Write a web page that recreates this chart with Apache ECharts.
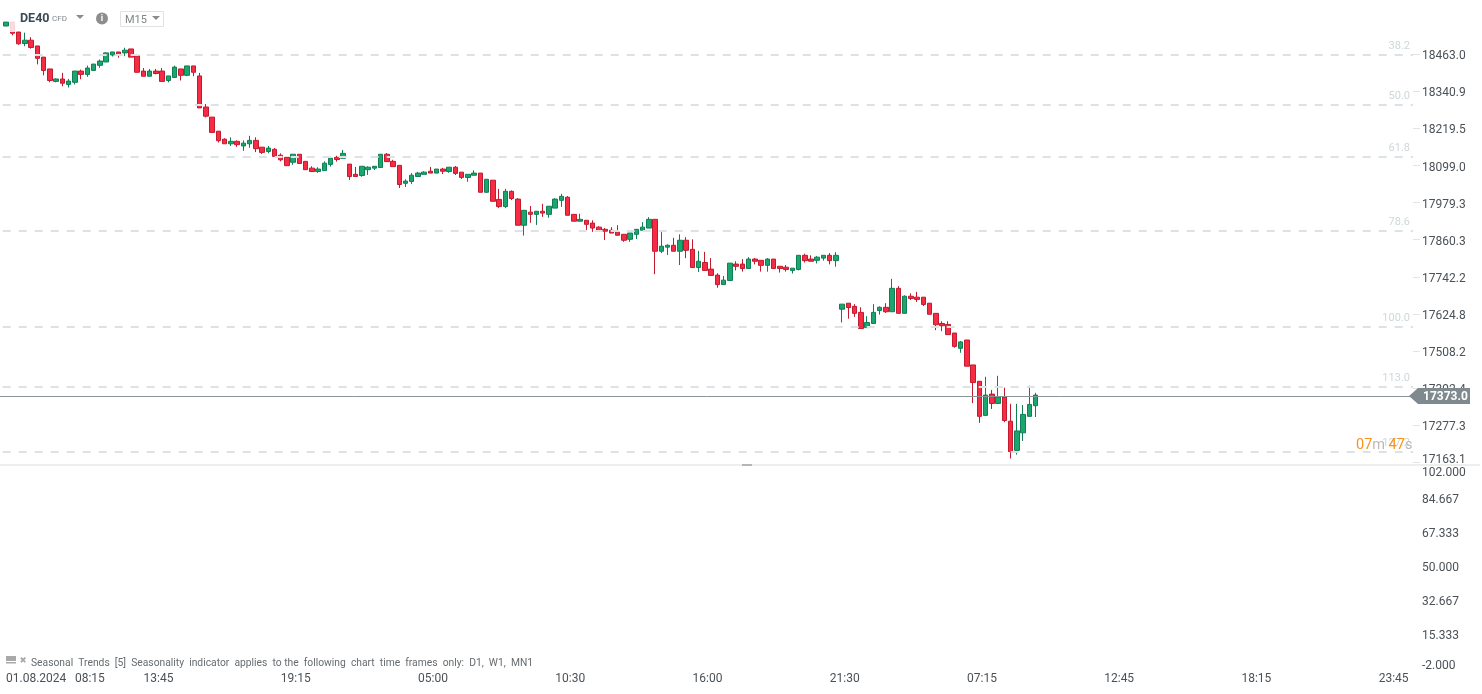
<!DOCTYPE html>
<html><head><meta charset="utf-8">
<style>html,body{margin:0;padding:0;background:#fff}#c{width:1482px;height:694px}</style>
<script src="https://cdn.jsdelivr.net/npm/echarts@6/dist/echarts.min.js"></script>
</head><body><div id="c"></div>
<script>
const opens=[18559,18572,18539,18501,18512,18493,18456,18417,18376,18384,18366,18373,18410,18399,18412,18429,18440,18463,18473,18470,18483,18460,18410,18393,18410,18410,18379,18389,18417,18396,18427,18394,18292,18259,18213,18187,18172,18180,18165,18172,18183,18161,18147,18154,18135,18128,18112,18138,18115,18093,18082,18085,18105,18128,18125,18106,18073,18069,18088,18093,18095,18138,18115,18102,18044,18050,18066,18073,18083,18077,18090,18082,18096,18080,18063,18070,18077,18015,18054,17992,17969,18018,17993,17909,17951,17944,17954,17944,17964,17989,17999,17944,17922,17925,17916,17903,17896,17893,17887,17880,17864,17880,17893,17900,17928,17826,17839,17845,17826,17861,17832,17774,17790,17769,17750,17720,17733,17785,17785,17771,17801,17797,17781,17801,17778,17775,17765,17768,17813,17801,17797,17804,17813,17796,17642,17661,17651,17632,17584,17597,17638,17648,17634,17708,17629,17683,17680,17680,17661,17629,17597,17594,17567,17519,17545,17467,17416,17310,17376,17347,17367,17292,17202,17256,17307,17340];
const closes=[18572,18535,18500,18512,18488,18452,18412,18379,18384,18370,18377,18410,18399,18420,18433,18443,18470,18473,18463,18479,18456,18406,18393,18410,18402,18376,18394,18423,18396,18427,18406,18289,18262,18209,18182,18172,18180,18169,18174,18183,18156,18144,18158,18131,18120,18101,18138,18108,18088,18082,18090,18109,18125,18121,18141,18066,18066,18099,18096,18099,18138,18114,18098,18040,18051,18070,18077,18080,18077,18090,18083,18096,18076,18063,18073,18077,18015,18057,17986,17969,18018,17995,17909,17957,17944,17954,17948,17970,17993,18002,17941,17922,17928,17912,17900,17893,17890,17884,17877,17861,17884,17896,17903,17928,17826,17842,17845,17826,17861,17829,17774,17794,17765,17749,17720,17734,17788,17778,17771,17801,17794,17781,17801,17771,17771,17768,17772,17813,17796,17794,17807,17813,17796,17813,17658,17647,17629,17581,17600,17632,17648,17634,17708,17629,17683,17676,17673,17657,17626,17593,17590,17562,17525,17539,17463,17412,17307,17373,17347,17367,17294,17198,17262,17313,17344,17373];
const highs=[18572,18572,18539,18537,18522,18493,18456,18417,18386,18404,18384,18410,18415,18428,18433,18448,18472,18473,18473,18487,18483,18460,18420,18417,18417,18420,18394,18428,18417,18427,18427,18404,18302,18259,18213,18190,18193,18183,18183,18198,18193,18161,18165,18158,18141,18128,18138,18138,18115,18099,18096,18115,18125,18133,18152,18106,18097,18099,18099,18099,18138,18142,18120,18102,18057,18077,18081,18083,18097,18090,18094,18096,18100,18080,18073,18086,18077,18057,18054,18026,18026,18021,17996,17957,17971,17954,17978,17970,17996,18010,18003,17944,17946,17925,17925,17906,17900,17903,17909,17880,17884,17896,17919,17935,17928,17887,17848,17869,17880,17871,17864,17827,17824,17804,17756,17747,17788,17794,17801,17807,17804,17797,17804,17801,17778,17782,17772,17813,17818,17813,17811,17813,17820,17823,17658,17661,17658,17648,17620,17658,17651,17661,17738,17715,17686,17692,17697,17680,17661,17629,17604,17604,17567,17542,17545,17467,17416,17430,17389,17433,17396,17346,17346,17342,17402,17380];
const lows=[18559,18528,18497,18492,18484,18432,18396,18373,18373,18360,18356,18366,18383,18391,18412,18421,18440,18458,18454,18459,18456,18406,18393,18393,18399,18376,18373,18389,18379,18393,18393,18289,18258,18209,18176,18172,18165,18162,18149,18159,18145,18139,18141,18131,18115,18101,18104,18108,18088,18082,18078,18085,18098,18114,18125,18055,18066,18065,18071,18087,18095,18114,18098,18029,18032,18042,18066,18073,18077,18077,18074,18078,18071,18058,18049,18070,18015,18015,17986,17964,17964,17990,17909,17876,17917,17910,17936,17933,17964,17968,17941,17922,17922,17894,17888,17893,17862,17884,17877,17856,17856,17865,17893,17900,17753,17820,17814,17826,17782,17804,17774,17760,17765,17749,17710,17720,17733,17765,17761,17771,17784,17761,17761,17771,17758,17761,17755,17765,17790,17794,17787,17796,17784,17777,17600,17612,17618,17581,17584,17597,17625,17630,17634,17629,17629,17671,17665,17652,17626,17576,17573,17562,17521,17505,17463,17348,17287,17310,17330,17347,17289,17177,17189,17231,17307,17305];

const priceTicks=[17163.1,17277.3,17392.4,17508.2,17624.8,17742.2,17860.3,17979.3,18099.0,18219.5,18340.9,18463.0];
const indicatorTicks=[-2,15.333,32.667,50,67.333,84.667,102];
const timeTickPositions=[4.4,13,24,46,68,90,112,134,156,178,200,222];
const timeTickLabels=['01.08.2024','08:15','13:45','19:15','05:00','10:30','16:00','21:30','07:15','12:45','18:15','23:45'];
const fibLevels=[18463,18298.6,18129.2,17890.8,17586.4,17398.9,17198.2];
const fibLabels=['38.2','50.0','61.8','78.6','100.0','113.0','127.2'];
const lastPriceText='17373.0';
const lastPriceLevel=17370;

const font='Roboto';
const xMin=-1,xMax=225.5;
const axisColor='#4a5157';
const lab=p=>({color:axisColor,fontSize:12,fontFamily:font,padding:p});
const chart=echarts.init(document.getElementById('c'),null,{renderer:'canvas'});
const candles=opens.map((o,i)=>[i,o,closes[i],lows[i],highs[i]]);
chart.setOption({
  animation:false,
  textStyle:{fontFamily:font},
  grid:[{left:0,right:69,top:0,height:465},{left:0,right:69,top:465,height:204}],
  xAxis:[
    {type:'value',gridIndex:0,min:xMin,max:xMax,show:false,splitLine:{show:false}},
    {type:'value',gridIndex:1,min:xMin,max:xMax,position:'bottom',splitLine:{show:false},axisLine:{show:false},axisTick:{show:false},
     axisLabel:{customValues:timeTickPositions,margin:3.5,color:axisColor,fontSize:12,fontFamily:font,padding:[0,0,0,5],hideOverlap:false,showMinLabel:true,showMaxLabel:true,
       formatter:v=>{const k=timeTickPositions.indexOf(v);return k>=0?timeTickLabels[k]:''}}}
  ],
  yAxis:[
    {type:'log',logBase:10,gridIndex:0,min:17157,max:18645.6,position:'right',splitLine:{show:false},axisLine:{show:false},
     axisTick:{show:false},
     axisLabel:{customValues:priceTicks,margin:9,color:axisColor,fontSize:12,fontFamily:font,
       rich:{a:lab([2.5,0,0,0]),low:lab([0,0,7,0])},
       formatter:v=>{const s=Number(v).toFixed(1);return s==='17163.1'?'{low|'+s+'}':'{a|'+s+'}'}}},
    {type:'value',gridIndex:1,min:-2,max:102,position:'right',splitLine:{show:false},axisLine:{show:false},
     axisTick:{show:false},
     axisLabel:{customValues:indicatorTicks,margin:9,color:axisColor,fontSize:12,fontFamily:font,
       rich:{a:lab([2.5,0,0,0]),low:lab([0,0,5.6,0]),top:lab([15,0,0,0])},
       formatter:v=>{const s=Number(v).toFixed(3);return v===-2?'{low|'+s+'}':(v===102?'{top|'+s+'}':'{a|'+s+'}')}}}
  ],
  series:[
    {type:'candlestick',name:'DE40',xAxisIndex:0,yAxisIndex:0,data:candles,encode:{x:0,y:[1,2,3,4]},barWidth:5,z:3,
     itemStyle:{color:'#1ba56f',color0:'#f62c45',borderColor:'#0f7f54',borderColor0:'#c41a30',borderWidth:1},
     markLine:{silent:true,symbol:'none',z:5,animation:false,
       lineStyle:{color:'#dbe3e6',width:2,type:[8,8],dashOffset:13.3,opacity:1},
       label:{show:true,position:'insideEndTop',distance:[3,3],color:'#cfd7da',fontSize:11,fontFamily:font},
       data:fibLevels.map((v,i)=>({yAxis:v,label:{formatter:fibLabels[i]}})).concat([
         {yAxis:lastPriceLevel,lineStyle:{color:'#8a9397',width:1,type:'solid'},label:{show:false}}
       ])}},
    {type:'custom',name:'priceTicks',xAxisIndex:0,yAxisIndex:0,z:2,clip:false,silent:true,data:priceTicks.map(v=>[xMax,v]),encode:{x:0,y:1},
     renderItem:(p,api)=>{const c=api.coord([xMax,api.value(1)]);const y=Math.round(c[1])-0.5;
       return {type:'line',shape:{x1:c[0],y1:y,x2:c[0]+7,y2:y},style:{stroke:'#e4e4e4',lineWidth:1}};}},
    {type:'custom',name:'lastPriceTag',xAxisIndex:0,yAxisIndex:0,z:8,clip:false,silent:true,data:[[xMax,lastPriceLevel]],encode:{x:0,y:1},
     renderItem:(p,api)=>{const c=api.coord([xMax,lastPriceLevel]);const x=c[0],y=c[1];
       return {type:'group',children:[
         {type:'polygon',shape:{points:[[x-4,y],[x+5,y-8],[x+57,y-8],[x+57,y+8],[x+5,y+8]]},style:{fill:'#7f8a8f'}},
         {type:'text',style:{x:x+10,y:y+0.5,text:lastPriceText,fill:'#fff',font:'bold 12px Roboto',textAlign:'left',textVerticalAlign:'middle'}}
       ]};}}
  ],
  graphic:[
    {type:'line',z:1,shape:{x1:0,y1:465,x2:1480,y2:465},style:{stroke:'#dcdcdc',lineWidth:1}},
    {type:'rect',z:1,shape:{x:742,y:464,width:10,height:2},style:{fill:'#b5b5b5'}},
    {type:'rect',z:100,shape:{x:9.5,y:21,width:6.5,height:11},style:{fill:'rgba(255,255,255,0.82)'}},
    {type:'text',z:100,style:{x:20,y:12,text:'DE40',fill:'#3c4a55',font:'bold 12.5px Roboto'}},
    {type:'text',z:100,style:{x:52,y:15,text:'CFD',fill:'#7e868b',font:'8px Roboto'}},
    {type:'polygon',z:100,shape:{points:[[76,15],[84,15],[80,19]]},style:{fill:'#8b8b8b'}},
    {type:'circle',z:100,shape:{cx:102,cy:18.5,r:6},style:{fill:'#8d8d8d'}},
    {type:'text',z:101,style:{x:102,y:14.5,text:'i',fill:'#fff',font:'bold 9px Roboto',textAlign:'center'}},
    {type:'rect',z:100,shape:{x:120.5,y:11.5,width:43,height:15},style:{fill:'#fff',stroke:'#e2e2e2',lineWidth:1}},
    {type:'text',z:101,style:{x:125,y:14.5,text:'M15',fill:'#7f8487',font:'11px Roboto'}},
    {type:'polygon',z:101,shape:{points:[[152,16],[160,16],[156,20]]},style:{fill:'#8b8b8b'}},
    {type:'rect',z:100,shape:{x:6,y:656,width:10,height:5},style:{fill:'#a9a9a9'}},
    {type:'rect',z:100,shape:{x:6,y:662,width:10,height:1.5},style:{fill:'#a9a9a9'}},
    {type:'text',z:100,style:{x:19.5,y:656,text:'✖',fill:'#a9a9a9',font:'8.5px "DejaVu Sans"'}},
    {type:'text',z:100,style:{x:31,y:658,text:'Seasonal  Trends  [5]  Seasonality  indicator  applies  to the  following  chart  time  frames  only:  D1,  W1,  MN1',fill:'#666c70',font:'10.3px Roboto'}},
    {type:'text',z:100,style:{x:1356,y:438,text:'{o|07}{g|m }{o|47}{g|s}',font:'14.5px Roboto',rich:{o:{fill:'#f7941d',font:'14.5px Roboto'},g:{fill:'#b9b9b9',font:'14.5px Roboto'}}}}
  ]
});
</script></body></html>
